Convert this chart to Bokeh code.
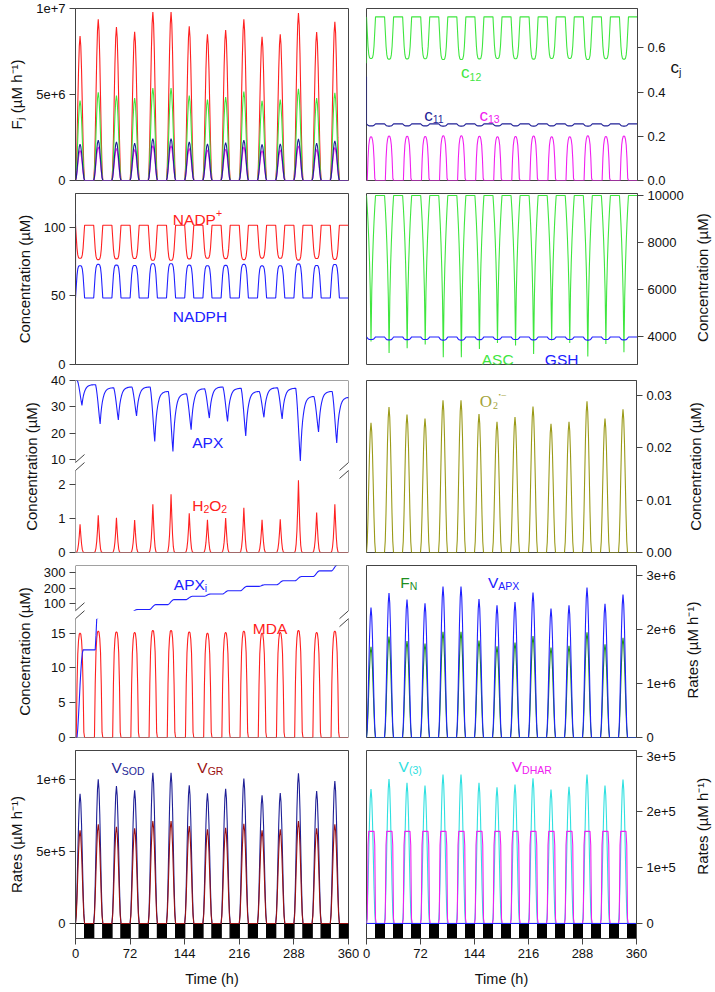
import numpy as np
from bokeh.plotting import figure
from bokeh.models import Label, FixedTicker, Arrow, BoxAnnotation, Range1d, CustomJSTickFormatter
from bokeh.layouts import column, row
from bokeh.embed import file_html
from bokeh.resources import INLINE

# ------------------------------------------------------------------ data
X_TICKS = [0, 72, 144, 216, 288, 360]
PERIOD_H = 24
LIGHT_H = 12

# per-day peak / extreme values (15 days)
F_RED = [8.40e6, 9.37e6, 8.92e6, 8.65e6, 9.79e6, 9.79e6, 8.96e6, 8.50e6, 8.75e6, 9.38e6, 8.35e6, 8.50e6, 9.73e6, 8.63e6, 9.23e6]
F_GREEN = [4.65e6, 5.13e6, 4.94e6, 4.79e6, 5.37e6, 5.37e6, 4.94e6, 4.71e6, 4.85e6, 5.17e6, 4.63e6, 4.71e6, 5.33e6, 4.79e6, 5.10e6]
F_NAVY = [2.12e6, 2.35e6, 2.25e6, 2.17e6, 2.44e6, 2.44e6, 2.25e6, 2.13e6, 2.20e6, 2.35e6, 2.10e6, 2.13e6, 2.42e6, 2.17e6, 2.30e6]
F_MAGENTA = [1.75e6, 1.95e6, 1.86e6, 1.80e6, 2.03e6, 2.03e6, 1.86e6, 1.77e6, 1.82e6, 1.95e6, 1.74e6, 1.77e6, 2.01e6, 1.80e6, 1.92e6]

C12_REST = 0.740
C12_MIN = [0.552, 0.549, 0.550, 0.551, 0.547, 0.547, 0.550, 0.552, 0.551, 0.549, 0.552, 0.552, 0.547, 0.551, 0.549]
C12_START = 0.53
C11_REST = 0.256
C11_MIN = [0.247, 0.246, 0.247, 0.247, 0.246, 0.246, 0.247, 0.247, 0.247, 0.246, 0.247, 0.247, 0.246, 0.247, 0.246]
C11_START = 0.47
C13_PEAK = [0.198, 0.201, 0.200, 0.199, 0.202, 0.202, 0.200, 0.198, 0.199, 0.201, 0.198, 0.198, 0.202, 0.199, 0.201]

NADP_REST = 101.5
NADP_MIN = [77.5, 76.5, 77.0, 77.3, 76.0, 76.0, 77.0, 77.5, 77.2, 76.5, 77.6, 77.5, 76.1, 77.3, 76.6]
NADP_START = 40.0
NADPH_REST = 48.5
NADPH_MAX = [72.0, 73.0, 72.5, 72.2, 73.5, 73.5, 72.5, 72.0, 72.3, 73.0, 71.9, 72.0, 73.4, 72.2, 72.9]
NADPH_START = 110.0

ASC_REST = 10000
ASC_MIN = [3788, 3308, 3506, 3661, 3125, 3125, 3478, 3732, 3619, 3266, 3830, 3732, 3153, 3689, 3336]
GSH_REST = 3985
GSH_MIN = [3880, 3860, 3870, 3875, 3850, 3850, 3870, 3880, 3875, 3860, 3880, 3880, 3850, 3875, 3860]

APX_START = 40.0
APX_PEAK = [40.0, 38.4, 37.2, 37.5, 37.5, 35.8, 34.9, 36.8, 37.5, 37.0, 35.8, 37.2, 37.0, 33.9, 35.8]
APX_MIN = [30.5, 23.5, 25.0, 26.5, 16.8, 13.0, 21.3, 25.7, 24.4, 18.9, 26.0, 25.4, 9.4, 20.4, 16.2]
APX_NEXT_PEAK = 33.6
APX_END = 33.3
H2O2_PEAK = [0.83, 1.09, 1.02, 0.95, 1.41, 1.71, 1.15, 0.96, 1.01, 1.31, 0.96, 0.97, 2.12, 1.17, 1.41]
O2_PEAK = [0.0248, 0.0278, 0.0264, 0.0256, 0.0291, 0.0291, 0.0265, 0.0250, 0.0259, 0.0279, 0.0246, 0.0250, 0.0289, 0.0256, 0.0274]

APXI_LEVEL = [12.6, 33.0, 50.0, 64.4, 96.0, 127.7, 148.7, 163.5, 184.6, 212.0, 222.6, 247.9, 275.0, 311.0, 352.0]
MDA_PEAK = [15.0, 15.3, 15.2, 15.1, 15.4, 15.4, 15.2, 15.0, 15.1, 15.3, 15.0, 15.1, 15.4, 15.1, 15.3]
V_APX = [2.41e6, 2.68e6, 2.56e6, 2.49e6, 2.80e6, 2.80e6, 2.57e6, 2.45e6, 2.51e6, 2.69e6, 2.39e6, 2.45e6, 2.78e6, 2.48e6, 2.65e6]
F_N = [1.68e6, 1.87e6, 1.79e6, 1.74e6, 1.96e6, 1.96e6, 1.80e6, 1.69e6, 1.76e6, 1.88e6, 1.67e6, 1.70e6, 1.95e6, 1.73e6, 1.85e6]
V_SOD = [0.900e6, 1.000e6, 0.954e6, 0.924e6, 1.046e6, 1.046e6, 0.958e6, 0.903e6, 0.935e6, 1.005e6, 0.889e6, 0.905e6, 1.042e6, 0.919e6, 0.988e6]
V_GR = [0.646e6, 0.688e6, 0.671e6, 0.660e6, 0.711e6, 0.711e6, 0.676e6, 0.653e6, 0.664e6, 0.692e6, 0.646e6, 0.653e6, 0.711e6, 0.660e6, 0.688e6]
V_3 = [2.41e5, 2.59e5, 2.52e5, 2.47e5, 2.67e5, 2.67e5, 2.52e5, 2.44e5, 2.49e5, 2.60e5, 2.40e5, 2.45e5, 2.67e5, 2.47e5, 2.58e5]
V_DHAR = [1.65e5] * 15

# within-day waveform templates (fraction of the day's excursion at hours 0..23)
PEAK = [0, 0.08, 0.27, 0.52, 0.76, 0.93, 1.0, 0.93, 0.76, 0.52, 0.27, 0.08] + [0] * 12
NARROW = [0, 0, 0.03, 0.12, 0.30, 0.60, 1.0, 0.62, 0.30, 0.10, 0.02, 0] + [0] * 12
HUMP = [0, 0, 0.50, 0.80, 0.93, 0.99, 1.0, 0.99, 0.93, 0.80, 0.50, 0.05] + [0] * 12
FLAT = [0, 0.05, 0.85, 1, 1, 1, 1, 1, 1, 1, 1, 0.85, 0.05] + [0] * 11
UDIP = [0, 0.35, 0.70, 0.90, 0.98, 1, 1, 1, 0.98, 0.90, 0.70, 0.35, 0] + [0] * 11
VDIP = [0, 0.08, 0.18, 0.30, 0.45, 0.65, 1.0, 0.65, 0.45, 0.30, 0.18, 0.08, 0] + [0] * 11
RISE = [0, 0, 0, 0.10, 0.25, 0.42, 0.60, 0.75, 0.88, 0.96, 1.0] + [1] * 13
APX_DROP = [0, 0.10, 0.25, 0.43, 0.63, 0.83, 1.0]
APX_RECOVER = [0, 0.28, 0.48, 0.62, 0.72, 0.80, 0.86, 0.90, 0.93, 0.95, 0.965, 0.975, 0.983, 0.99, 0.994, 0.997, 0.999, 1.0, 1.0]

# ------------------------------------------------------------------ helpers
AX = "#444444"
FONT = "Liberation Sans"
TOTAL_W = 714
L_BL, FRAME_W_L, L_BR = 75, 273, 11
LEFT_W = L_BL + FRAME_W_L + L_BR
R_BL, FRAME_W_R = 7, 272


def cycles(rest, extreme, shape, start=None):
    t, y = [], []
    if start is not None:
        t.append(0.0); y.append(start)
    for k, b in enumerate(extreme):
        for h, s in enumerate(shape):
            t.append(PERIOD_H * k + h)
            y.append(rest + (b - rest) * s)
    t.append(PERIOD_H * len(extreme)); y.append(rest)
    return t, y


def apx_series():
    t, y = [0.0], [APX_START]
    n = len(APX_PEAK)
    for k in range(n):
        p0, m0 = APX_PEAK[k], APX_MIN[k]
        for i, f in enumerate(APX_DROP):
            t.append(PERIOD_H * k + 2.5 + i); y.append(p0 - (p0 - m0) * f)
        nxt = APX_PEAK[k + 1] if k + 1 < n else APX_NEXT_PEAK
        last = 17 if k + 1 < n else 15
        for i in range(1, last + 1):
            t.append(PERIOD_H * k + 8.5 + i); y.append(m0 + (nxt - m0) * APX_RECOVER[i])
    t.append(360.0); y.append(APX_END)
    return t, y


def apxi_series():
    t, y = [], []
    prev = 0.0
    for k, lev in enumerate(APXI_LEVEL):
        for h, s in enumerate(RISE):
            t.append(PERIOD_H * k + h); y.append(prev + (lev - prev) * s)
        prev = lev
    t.append(360.0); y.append(prev)
    return t, y


# broken-axis mappings (panel coordinate "u")
def p5_upper(v):          # APX 10..40 above the break
    return 2.731 + (np.asarray(v, float) - 10.0) * 0.077


def p7_map(v):            # APXi: lower part 1:1, compressed hidden gap, upper part
    v = np.asarray(v, float)
    return np.where(v <= 17, v, np.where(v < 60, 17 + (v - 17) * (1.29 / 43.0), 18.29 + (v - 60) * 0.02257))


def style_axes(p):
    for ax in p.axis:
        ax.axis_line_color = AX
        ax.major_tick_line_color = AX
        ax.major_tick_out = 6
        ax.major_tick_in = 0
        ax.minor_tick_line_color = None
        ax.major_label_text_font = FONT
        ax.major_label_text_font_size = "13px"
        ax.major_label_text_color = "#111111"
        ax.major_label_standoff = 4
        ax.axis_label_text_font = FONT
        ax.axis_label_text_font_style = "normal"
        ax.axis_label_text_font_size = "15px"
        ax.axis_label_text_color = "#111111"
        ax.axis_label_standoff = 8


def make_fig(left, y0, y1, geo, rb=None, xaxis=False):
    frame_h, top, bot = geo
    width = LEFT_W if left else R_BL + FRAME_W_R + rb
    p = figure(width=width, height=top + frame_h + bot,
               x_range=Range1d(0, 360), y_range=Range1d(y0, y1),
               output_backend="svg", toolbar_location=None,
               x_axis_location="below" if xaxis else None,
               y_axis_location="left" if left else "right",
               min_border_left=L_BL if left else R_BL,
               min_border_right=L_BR if left else rb,
               min_border_top=top, min_border_bottom=bot)
    p.grid.visible = False
    p.outline_line_color = AX
    p.outline_line_width = 1
    p.background_fill_color = "white"
    p.border_fill_color = "white"
    style_axes(p)
    if xaxis:
        p.xaxis.ticker = FixedTicker(ticks=X_TICKS)
        p.xaxis.axis_label = "Time (h)"
        p.xaxis.axis_label_text_font_size = "14.5px"
        p.xaxis.axis_label_standoff = 10
    return p


def strip(geo, used_w):
    """narrow text-only figure to the right of a right-hand panel (for its axis title)"""
    frame_h, top, bot = geo
    w = TOTAL_W - LEFT_W - used_w
    h = top + frame_h + bot
    s = figure(width=w, height=h, x_range=Range1d(0, w), y_range=Range1d(0, h),
               output_backend="svg", toolbar_location=None,
               x_axis_location=None, y_axis_location=None,
               min_border_left=0, min_border_right=0, min_border_top=0, min_border_bottom=0)
    s.grid.visible = False
    s.outline_line_color = None
    s.background_fill_color = "white"
    s.border_fill_color = "white"
    return s


def right_title(s, geo, text, x):
    frame_h, top, bot = geo
    s.add_layout(Label(x=x, y=bot + frame_h / 2.0, text=text, angle=np.pi / 2,
                       text_align="center", text_baseline="middle", text_font=FONT,
                       text_font_size="15px", text_color="#111111"))


def yticks(p, ticks, labels):
    tk = [float(t) for t in ticks]
    p.yaxis.ticker = FixedTicker(ticks=tk)
    p.yaxis.formatter = CustomJSTickFormatter(args=dict(tk=tk, lb=list(labels)), code="""
        for (let i = 0; i < tk.length; i++) {
            if (Math.abs(tk[i] - tick) <= 1e-9 * Math.max(1, Math.abs(tk[i]))) return lb[i];
        }
        return '';
    """)


W = {"A": .667, "C": .722, "D": .722, "F": .611, "G": .778, "H": .722, "M": .833, "N": .722,
     "O": .778, "P": .667, "R": .722, "S": .667, "V": .667, "X": .667, "c": .5, "i": .222,
     "j": .222, "+": .584, "(": .333, ")": .333, "•": .35, "−": .584}


def tw(s, size):
    return sum(W.get(ch, .556) for ch in s) * size


def rich(p, x, y, parts, color, font=FONT, big=15.5, small=10.5):
    xo = 0.0
    for text, kind, *extra in parts:
        size = extra[0] if extra else (big if kind == "n" else small)
        yo = {"n": 0, "sub": -4, "sup": 6}[kind]
        p.add_layout(Label(x=x, y=y, x_offset=xo, y_offset=yo,
                           text=text, text_color=color, text_font=font, text_font_size=f"{size}px",
                           text_align="left", text_baseline="alphabetic"))
        xo += tw(text, size)


def seg(p, x0, y0, x1, y1, color=AX, width=1.0):
    p.add_layout(Arrow(end=None, x_start=x0, y_start=y0, x_end=x1, y_end=y1,
                       line_color=color, line_width=width))


def broken_frame(p, y0, y1, yc, px_per_u):
    """Manual frame with a gap and '//' marks at yc on both sides."""
    p.outline_line_color = None
    p.yaxis.axis_line_color = None
    gap = 4.0 / px_per_u
    p.add_layout(BoxAnnotation(left=0, right=360, bottom=yc - gap, top=yc + gap,
                               fill_color="white", fill_alpha=1, line_alpha=0))
    dx = 9.0 / (FRAME_W_L / 360.0)
    dy = 8.0 / px_per_u
    for xe in (0, 360):
        seg(p, xe, y0, xe, yc - gap)
        seg(p, xe, yc + gap, xe, y1)
        for s in (-1, 1):
            seg(p, xe - dx, yc + s * gap - dy, xe + dx, yc + s * gap + dy)
    seg(p, 0, y1, 360, y1)
    seg(p, 0, y0, 360, y0)


def light_dark(p, ymin):
    n = 360 // PERIOD_H
    on = [PERIOD_H * k for k in range(n)]
    p.quad(left=on, right=[a + LIGHT_H for a in on], bottom=ymin, top=0,
           fill_color="white", line_color="black", line_width=1)
    p.quad(left=[a + LIGHT_H for a in on], right=[a + PERIOD_H for a in on], bottom=ymin, top=0,
           fill_color="black", line_color="black", line_width=1)


LW = 1.1
RED, GREEN, NAVY, MAGENTA, BLUE = "#ff2020", "#3fe63f", "#1f1f96", "#f020f0", "#2020ff"
OLIVE, DKGREEN, DKRED, CYAN = "#9a9a18", "#1f8f1f", "#9a1010", "#2fe0e0"

# row geometry: (frame height, top border, bottom border)
R1 = (172, 8, 8)
R2 = (171, 5, 8)
R3 = (172, 8, 8)
R4 = (172, 5, 8)
R5 = (188, 5, 53)
# right-hand border reserved for tick labels of each right panel
RB = [30, 48, 36, 40, 40]

# ------------------------------------------------------------------ row 1
p1 = make_fig(True, 0, 1e7, R1)
yticks(p1, [0, 5e6, 1e7], ["0", "5e+6", "1e+7"])
p1.yaxis.axis_label = "Fⱼ (µM h⁻¹)"
for arr, col in ((F_RED, RED), (F_GREEN, GREEN), (F_MAGENTA, MAGENTA), (F_NAVY, NAVY)):
    t, y = cycles(0.0, arr, PEAK)
    p1.line(t, y, color=col, line_width=LW)

p2 = make_fig(False, 0, 0.778, R1, rb=RB[0])
yticks(p2, [0, 0.2, 0.4, 0.6], ["0.0", "0.2", "0.4", "0.6"])
t, y = cycles(C12_REST, C12_MIN, UDIP, start=C12_START)
p2.line(t, y, color=GREEN, line_width=LW)
t, y = cycles(C11_REST, C11_MIN, UDIP, start=C11_START)
p2.line(t, y, color=NAVY, line_width=LW)
t, y = cycles(0.0, C13_PEAK, HUMP)
p2.line(t, y, color=MAGENTA, line_width=LW)
rich(p2, 125.7, 0.487, [("c", "n"), ("12", "sub")], GREEN, big=17)
rich(p2, 76.8, 0.295, [("c", "n"), ("11", "sub")], NAVY, big=17)
rich(p2, 150.0, 0.295, [("c", "n"), ("13", "sub")], MAGENTA, big=17)
s1 = strip(R1, p2.width)
rich(s1, 2, R1[0] + R1[1] + R1[2] - 64.5, [("c", "n"), ("j", "sub")], "#111111", big=17)

# ------------------------------------------------------------------ row 2
p3 = make_fig(True, 0, 124.7, R2)
yticks(p3, [0, 50, 100], ["0", "50", "100"])
p3.yaxis.axis_label = "Concentration (µM)"
t, y = cycles(NADP_REST, NADP_MIN, UDIP, start=NADP_START)
p3.line(t, y, color=RED, line_width=LW)
t, y = cycles(NADPH_REST, NADPH_MAX, UDIP, start=NADPH_START)
p3.line(t, y, color=BLUE, line_width=LW)
rich(p3, 128.4, 106.0, [("NADP", "n"), ("+", "sup")], RED)
rich(p3, 128.4, 34.8, [("NADPH", "n")], BLUE)

p4 = make_fig(False, 2814, 10085, R2, rb=RB[1])
yticks(p4, [4000, 6000, 8000, 10000], ["4000", "6000", "8000", "10000"])
t, y = cycles(ASC_REST, ASC_MIN, VDIP)
p4.line(t, y, color=GREEN, line_width=LW)
t, y = cycles(GSH_REST, GSH_MIN, UDIP)
p4.line(t, y, color=BLUE, line_width=LW)
rich(p4, 153.1, 3025, [("ASC", "n")], GREEN)
rich(p4, 236.9, 3025, [("GSH", "n")], BLUE)
s2 = strip(R2, p4.width)
right_title(s2, R2, "Concentration (µM)", 16)

# ------------------------------------------------------------------ row 3
P5_TOP = float(p5_upper(40))
p5 = make_fig(True, 0, P5_TOP, R3)
APX_TICKS = [10, 20, 30, 40]
H2O2_TICKS = [0, 1, 2]
yticks(p5, list(H2O2_TICKS) + [float(p5_upper(v)) for v in APX_TICKS],
       [str(v) for v in H2O2_TICKS] + [str(v) for v in APX_TICKS])
p5.yaxis.axis_label = "Concentration (µM)"
t, y = apx_series()
p5.line(t, p5_upper(y), color=BLUE, line_width=LW)
t, y = cycles(0.0, H2O2_PEAK, NARROW)
p5.line(t, y, color=RED, line_width=LW)
broken_frame(p5, 0, P5_TOP, 2.52, R3[0] / P5_TOP)
rich(p5, 154.0, 3.21, [("APX", "n")], BLUE)
rich(p5, 154.0, 1.386, [("H", "n"), ("2", "sub"), ("O", "n"), ("2", "sub")], RED)

p6 = make_fig(False, 0, 0.0329, R3, rb=RB[2])
yticks(p6, [0, 0.01, 0.02, 0.03], ["0.00", "0.01", "0.02", "0.03"])
t, y = cycles(0.0, O2_PEAK, PEAK)
p6.line(t, y, color=OLIVE, line_width=LW)
rich(p6, 150.9, 0.0289, [("O", "n"), ("2", "sub"), ("•", "sup", 7), ("−", "sup", 10)], "#a3a33a",
     font="Liberation Serif", big=17, small=10)
s3 = strip(R3, p6.width)
right_title(s3, R3, "Concentration (µM)", 21)

# ------------------------------------------------------------------ row 4
P7_TOP = float(p7_map(345))
p7 = make_fig(True, 0, P7_TOP, R4)
MDA_TICKS = [0, 5, 10, 15]
APXI_TICKS = [100, 200, 300]
yticks(p7, list(MDA_TICKS) + [float(p7_map(v)) for v in APXI_TICKS],
       [str(v) for v in MDA_TICKS] + [str(v) for v in APXI_TICKS])
p7.yaxis.axis_label = "Concentration (µM)"
t, y = cycles(0.0, MDA_PEAK, HUMP)
p7.line(t, y, color=RED, line_width=LW)
t, y = apxi_series()
p7.line(t, p7_map(y), color=BLUE, line_width=LW)
broken_frame(p7, 0, P7_TOP, 17.65, R4[0] / P7_TOP)
rich(p7, 129.7, 22.05, [("APX", "n"), ("i", "sub")], BLUE)
rich(p7, 233.9, 15.6, [("MDA", "n")], RED)

p8 = make_fig(False, 0, 3.19e6, R4, rb=RB[3])
yticks(p8, [0, 1e6, 2e6, 3e6], ["0", "1e+6", "2e+6", "3e+6"])
t, y = cycles(0.0, F_N, PEAK)
p8.line(t, y, color=DKGREEN, line_width=LW)
t, y = cycles(0.0, V_APX, PEAK)
p8.line(t, y, color=BLUE, line_width=LW)
rich(p8, 45.0, 2.88e6, [("F", "n"), ("N", "sub")], DKGREEN)
rich(p8, 161.9, 2.88e6, [("V", "n"), ("APX", "sub")], BLUE)
s4 = strip(R4, p8.width)
right_title(s4, R4, "Rates (µM h⁻¹)", 14)

# ------------------------------------------------------------------ row 5
Y9_MIN = -0.104e6
p9 = make_fig(True, Y9_MIN, 1.2e6, R5, xaxis=True)
yticks(p9, [0, 5e5, 1e6], ["0", "5e+5", "1e+6"])
p9.yaxis.axis_label = "Rates (µM h⁻¹)"
light_dark(p9, Y9_MIN)
t, y = cycles(0.0, V_SOD, PEAK)
p9.line(t, y, color=NAVY, line_width=LW)
t, y = cycles(0.0, V_GR, PEAK)
p9.line(t, y, color=DKRED, line_width=LW)
rich(p9, 47.5, 1.083e6, [("V", "n"), ("SOD", "sub")], NAVY)
rich(p9, 160.6, 1.083e6, [("V", "n"), ("GR", "sub")], DKRED)

Y10_MIN = -0.27e5
p10 = make_fig(False, Y10_MIN, 3.1e5, R5, rb=RB[4], xaxis=True)
yticks(p10, [0, 1e5, 2e5, 3e5], ["0", "1e+5", "2e+5", "3e+5"])
light_dark(p10, Y10_MIN)
t, y = cycles(0.0, V_3, PEAK)
p10.line(t, y, color=CYAN, line_width=LW)
t, y = cycles(0.0, V_DHAR, FLAT)
p10.line(t, y, color=MAGENTA, line_width=LW)
p10.line([0, 360], [0, 0], color=BLUE, line_width=LW)
rich(p10, 42.8, 2.82e5, [("V", "n"), ("(3)", "sub")], CYAN)
rich(p10, 193.7, 2.82e5, [("V", "n"), ("DHAR", "sub")], MAGENTA)
s5 = strip(R5, p10.width)
right_title(s5, (R5[0], R5[1], R5[2]), "Rates (µM h⁻¹)", 24)

layout = column(row(p1, p2, s1), row(p3, p4, s2), row(p5, p6, s3), row(p7, p8, s4), row(p9, p10, s5))
open("out.html", "w").write(file_html(layout, INLINE))
